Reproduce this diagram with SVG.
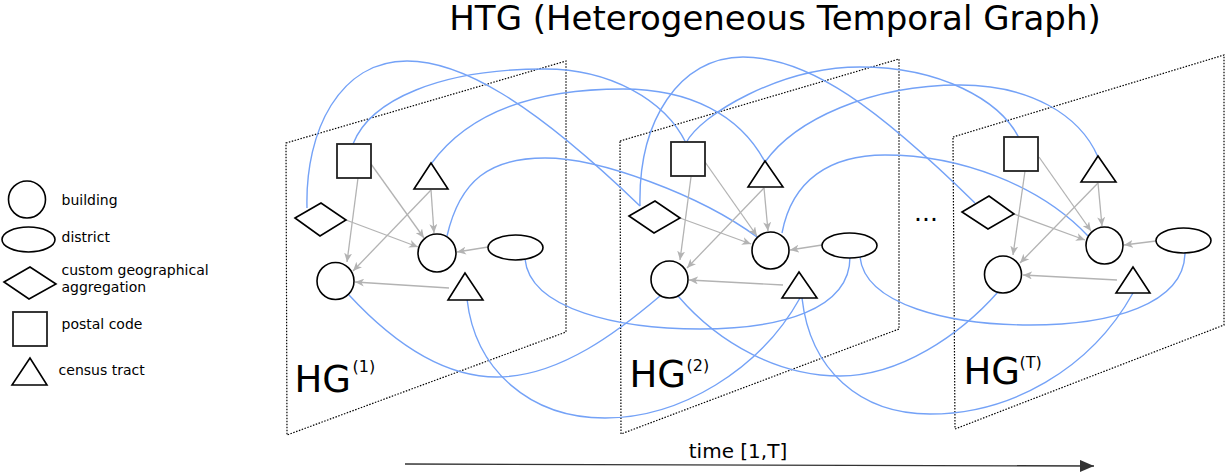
<svg xmlns="http://www.w3.org/2000/svg" width="1226" height="472" viewBox="0 0 1226 472">
<defs>
<style>
.plane{fill:none;stroke:#000;stroke-width:1.2;stroke-dasharray:1.5 1.5}
.node{fill:#fff;stroke:#000;stroke-width:1.6}
.sq{fill:#fff;stroke:#222;stroke-width:1.8}
.edge{fill:none;stroke:#b3b3b3;stroke-width:1.3;marker-end:url(#ga)}
.link{fill:none;stroke:#74a2f7;stroke-width:1.4}
text{font-family:"DejaVu Sans","Liberation Sans",sans-serif;fill:#000}
.leg{font-size:14px}
.hg{font-size:37px}
.sup{font-size:16px}
</style>
<marker id="ga" markerWidth="10" markerHeight="8" refX="9" refY="4" orient="auto" markerUnits="userSpaceOnUse"><path d="M0,0 L9,4 L0,8 L2.5,4 Z" fill="#b3b3b3"/></marker>
<marker id="ta" markerWidth="16" markerHeight="12" refX="14" refY="6" orient="auto" markerUnits="userSpaceOnUse"><path d="M0,0 L14,6 L0,12 Z" fill="#333"/></marker>
</defs>
<rect width="1226" height="472" fill="#fff"/>

<text x="775" y="30" font-size="34" text-anchor="middle">HTG (Heterogeneous Temporal Graph)</text>

<g id="legend">
<g id="leg-building"><circle class="node" cx="27" cy="199.5" r="18.5"/><text class="leg" x="61.5" y="205">building</text></g>
<g id="leg-district"><ellipse class="node" cx="28.5" cy="239.5" rx="26.5" ry="12.5"/><text class="leg" x="61.5" y="242">district</text></g>
<g id="leg-custom"><polygon class="node" points="4,282 30,267 56,284 29,299"/><text class="leg" x="61.5" y="275">custom geographical</text><text class="leg" x="61.5" y="292">aggregation</text></g>
<g id="leg-postal"><rect class="sq" x="13" y="312" width="34" height="34"/><text class="leg" x="61.5" y="329">postal code</text></g>
<g id="leg-census"><polygon class="node" points="30,358 12,385 47,385"/><text class="leg" x="58.6" y="375">census tract</text></g>
</g>

<g id="planes">
<g id="plane1"><polygon class="plane" points="286,143 566,61 566,332 287,435"/><text class="hg" x="294.4" y="392">HG</text><text class="sup" x="352.5" y="372">(1)</text></g>
<g id="plane2"><polygon class="plane" points="620,141 899,59 899,329 621,434"/><text class="hg" x="629.5" y="387">HG</text><text class="sup" x="686.5" y="371">(2)</text></g>
<g id="plane3"><polygon class="plane" points="953,137 1224,55 1224,325 955,429"/><text class="hg" x="963.4" y="384">HG</text><text class="sup" x="1019.5" y="368">(T)</text></g>
<text x="914" y="220.5" font-size="25">...</text>
</g>

<g id="connectors">
<path class="link" d="M307,208 C305,130 340,61 407,61 C460,61 530,100 640,206"/>
<path class="link" d="M447,236 C460,180 490,158 545,158 C600,158 700,195 757,237"/>
<path class="link" d="M353,144 C370,100 440,69 545,69 C610,69 665,100 686,143"/>
<path class="link" d="M431,164 C470,110 540,89 623,89 C690,89 740,115 765,162"/>
<path class="link" d="M349,295 C400,350 450,377 497,377 C560,377 620,330 660,296"/>
<path class="link" d="M467,299 C475,370 530,418 605,418 C680,418 760,370 800,298"/>
<path class="link" d="M525,259 C530,310 620,329 700,329 C780,329 850,310 850,257"/>
<path class="link" d="M640,206 C638,120 680,57 743,57 C810,57 880,110 975,203"/>
<path class="link" d="M686,143 C700,115 780,67 860,67 C940,67 1000,100 1019,138"/>
<path class="link" d="M765,162 C795,120 870,85 960,85 C1030,85 1080,115 1098,157"/>
<path class="link" d="M782,233 C792,180 830,155 885,155 C960,155 1040,185 1088,236"/>
<path class="link" d="M678,296 C720,345 780,376 840,376 C900,376 960,335 998,292"/>
<path class="link" d="M802,298 C810,370 860,414 930,414 C1010,414 1090,370 1133,293"/>
<path class="link" d="M860,257 C865,305 950,325 1030,325 C1110,325 1185,305 1185,252"/>

<line class="edge" x1="371" y1="164" x2="424" y2="238"/>
<line class="edge" x1="358" y1="178" x2="347" y2="262"/>
<line class="edge" x1="431" y1="190" x2="434" y2="233"/>
<line class="edge" x1="431" y1="190" x2="353" y2="271"/>
<line class="edge" x1="346" y1="220" x2="418" y2="247"/>
<line class="edge" x1="488" y1="247" x2="457" y2="252"/>
<line class="edge" x1="449" y1="288" x2="355" y2="282"/>

<line class="edge" x1="705" y1="162" x2="757" y2="236"/>
<line class="edge" x1="691" y1="177" x2="680" y2="260"/>
<line class="edge" x1="764" y1="188" x2="768" y2="231"/>
<line class="edge" x1="764" y1="188" x2="687" y2="268"/>
<line class="edge" x1="680" y1="218" x2="751" y2="244"/>
<line class="edge" x1="822" y1="245" x2="790" y2="250"/>
<line class="edge" x1="783" y1="285" x2="689" y2="280"/>

<line class="edge" x1="1039" y1="157" x2="1091" y2="231"/>
<line class="edge" x1="1025" y1="171" x2="1013" y2="255"/>
<line class="edge" x1="1098" y1="183" x2="1102" y2="226"/>
<line class="edge" x1="1098" y1="183" x2="1020" y2="263"/>
<line class="edge" x1="1014" y1="214" x2="1085" y2="240"/>
<line class="edge" x1="1156" y1="241" x2="1124" y2="245"/>
<line class="edge" x1="1117" y1="280" x2="1023" y2="275"/>

<line x1="405" y1="464" x2="1094" y2="466" stroke="#333" stroke-width="1.3" marker-end="url(#ta)"/>
</g>
<text x="738" y="458" font-size="20" text-anchor="middle">time [1,T]</text>

<g id="nodes-hg1">
<g id="hg1-postal"><rect class="sq" x="337" y="144" width="34" height="34"/></g>
<g id="hg1-census-a"><polygon class="node" points="431,163 414,189 448,189"/></g>
<g id="hg1-custom"><polygon class="node" points="295,218 321,203 346,220 320,236"/></g>
<g id="hg1-building-a"><circle class="node" cx="437" cy="253" r="19"/></g>
<g id="hg1-district"><ellipse class="node" cx="515.5" cy="247.5" rx="27.5" ry="12.5"/></g>
<g id="hg1-building-b"><circle class="node" cx="335.5" cy="281" r="18.5"/></g>
<g id="hg1-census-b"><polygon class="node" points="465,273 448,300 483,300"/></g>
</g>
<g id="nodes-hg2">
<g id="hg2-postal"><rect class="sq" x="671" y="142" width="34" height="34"/></g>
<g id="hg2-census-a"><polygon class="node" points="765,161 748,187 783,187"/></g>
<g id="hg2-custom"><polygon class="node" points="629,216 655,201 680,218 654,233"/></g>
<g id="hg2-building-a"><circle class="node" cx="770.5" cy="250.5" r="18.5"/></g>
<g id="hg2-district"><ellipse class="node" cx="849.5" cy="245.5" rx="27.5" ry="12.5"/></g>
<g id="hg2-building-b"><circle class="node" cx="669.5" cy="279.5" r="18.5"/></g>
<g id="hg2-census-b"><polygon class="node" points="799,272 782,298 817,298"/></g>
</g>
<g id="nodes-hg3">
<g id="hg3-postal"><rect class="sq" x="1004" y="137" width="34" height="34"/></g>
<g id="hg3-census-a"><polygon class="node" points="1098,156 1081,182 1116,182"/></g>
<g id="hg3-custom"><polygon class="node" points="962,212 989,196 1014,214 988,229"/></g>
<g id="hg3-building-a"><circle class="node" cx="1104.5" cy="245.5" r="18.5"/></g>
<g id="hg3-district"><ellipse class="node" cx="1183.5" cy="240.5" rx="27.5" ry="12.5"/></g>
<g id="hg3-building-b"><circle class="node" cx="1003" cy="274.5" r="18.5"/></g>
<g id="hg3-census-b"><polygon class="node" points="1133,267 1116,293 1150,293"/></g>
</g>
</svg>
